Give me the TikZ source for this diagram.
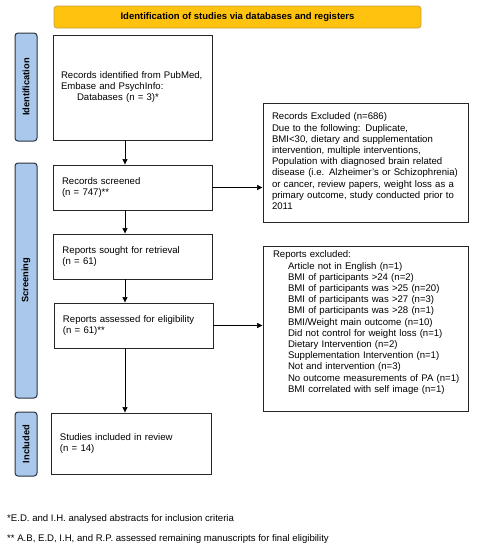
\documentclass[tikz,border=0pt]{standalone}
\usepackage{fontspec}
\setmainfont{Liberation Sans}
\usetikzlibrary{arrows.meta}
\definecolor{bannerfill}{HTML}{FFC20E}
\definecolor{bannerdraw}{HTML}{C9A23A}
\definecolor{labfill}{HTML}{A9C8EC}
\definecolor{labdraw}{HTML}{2B3340}
\newcommand\boxlines[2]{\hspace*{#1}\begin{tabular}[c]{@{}l@{}}#2\end{tabular}}
\begin{document}
\begin{tikzpicture}[x=1pt,y=-1pt,
  every node/.style={font=\fontsize{9.6}{11.2}\selectfont},
  flowbox/.style n args={2}{draw=black!85, line width=0.95pt, inner sep=0pt,
     minimum width=#1, minimum height=#2, text width=#1},
  sidelab/.style={draw=labdraw, fill=labfill, line width=1pt, rounded corners=3pt,
     rotate=90, minimum height=22pt, inner sep=0pt,
     font=\fontsize{9.3}{11}\selectfont\bfseries},
  banner/.style={draw=bannerdraw, fill=bannerfill, line width=0.8pt, rounded corners=3pt,
     minimum width=367pt, minimum height=22pt, inner sep=0pt,
     font=\fontsize{9.5}{11}\selectfont\bfseries},
  arr/.style={-{Triangle[length=5.5pt,width=5pt]}, line width=0.7pt},
  foot/.style={anchor=west, inner sep=0pt}]
\useasboundingbox (0,0) rectangle (477,550);
\fill[white] (0,0) rectangle (477,550);

\node[banner] (ban) at (237.5,17) {Identification of studies via databases and registers};

\node[sidelab, minimum width=108pt] (lid) at (26,87) {Identification};
\node[sidelab, minimum width=235pt] (lsc) at (26,280.5) {Screening};
\node[sidelab, minimum width=64pt] (lin) at (26,444) {Included};

\node[flowbox={159pt}{105pt}] (rec) at (132.5,87.5)
  {\boxlines{8pt}{Records identified from PubMed,\\ Embase and PsychInfo:\\ \hspace*{16pt}Databases (n = 3)*}\\[0pt]\mbox{}};
\node[flowbox={159pt}{45pt}] (scr) at (132.5,187.5)
  {\boxlines{9pt}{Records screened\\ (n = 747)**}};
\node[flowbox={159pt}{45pt}] (sou) at (133,256.5)
  {\boxlines{9pt}{Reports sought for retrieval\\ (n = 61)}};
\node[flowbox={159pt}{45pt}] (ass) at (133.5,325.5)
  {\boxlines{9pt}{Reports assessed for eligibility\\ (n = 61)**}};
\node[flowbox={160pt}{61pt}] (inc) at (131,443.5)
  {\boxlines{9pt}{Studies included in review\\ (n = 14)}};

\node[flowbox={205pt}{119pt}] (rex) at (365.5,162.5)
  {\boxlines{9pt}{Records Excluded (n=686)\\ Due to the following: Duplicate,\\ BMI<30, dietary and supplementation\\ intervention, multiple interventions,\\ Population with diagnosed brain related\\ disease (i.e. Alzheimer's or Schizophrenia)\\ or cancer, review papers, weight loss as a\\ primary outcome, study conducted prior to\\ 2011}};
\node[flowbox={205pt}{165pt}] (pex) at (365.5,328.5)
  {\boxlines{10pt}{Reports excluded:\\
   \hspace*{15pt}Article not in English (n=1)\\
   \hspace*{15pt}BMI of participants >24 (n=2)\\
   \hspace*{15pt}BMI of participants was >25 (n=20)\\
   \hspace*{15pt}BMI of participants was >27 (n=3)\\
   \hspace*{15pt}BMI of participants was >28 (n=1)\\
   \hspace*{15pt}BMI/Weight main outcome (n=10)\\
   \hspace*{15pt}Did not control for weight loss (n=1)\\
   \hspace*{15pt}Dietary Intervention (n=2)\\
   \hspace*{15pt}Supplementation Intervention (n=1)\\
   \hspace*{15pt}Not and intervention (n=3)\\
   \hspace*{15pt}No outcome measurements of PA (n=1)\\
   \hspace*{15pt}BMI correlated with self image (n=1)\\
   \mbox{}}};

\coordinate (ax) at (125,0);
\draw[arr] (rec.south -| ax) -- (scr.north -| ax);
\draw[arr] (scr.south -| ax) -- (sou.north -| ax);
\draw[arr] (sou.south -| ax) -- (ass.north -| ax);
\draw[arr] (ass.south -| ax) -- (inc.north -| ax);
\draw[arr] (scr.east) -- (scr.east -| rex.west);
\draw[arr] (ass.east) -- (ass.east -| pex.west);

\node[foot] (f1) at (7,519) {*E.D. and I.H. analysed abstracts for inclusion criteria};
\node[foot] (f2) at (7,539) {** A.B, E.D, I.H, and R.P. assessed remaining manuscripts for final eligibility};
\end{tikzpicture}
\end{document}
